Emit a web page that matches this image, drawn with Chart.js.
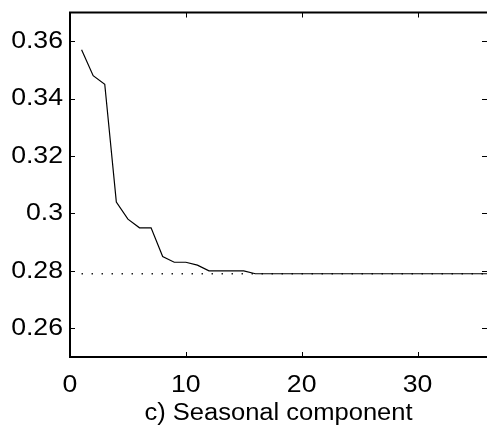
<!DOCTYPE html>
<html><head><meta charset="utf-8">
<script src="https://cdn.jsdelivr.net/npm/chart.js@4.4.1/dist/chart.umd.min.js"></script>
<style>html,body{margin:0;padding:0;background:#fff;overflow:hidden;} canvas{display:block;}</style>
</head><body>
<canvas id="c" width="487" height="437"></canvas>
<script>
const steps = [1,2,3,4,5,6,7,8,9,10,11,12,13,14,15,16,17,18,19,20,21,22,23,24,25,26,27,28,29,30,31,32,33,34,35,36];
const seasonal = [0.357,0.348,0.345,0.304,0.298,0.295,0.295,0.285,0.283,0.283,0.282,0.280,0.280,0.280,0.280,
  0.279,0.279,0.279,0.279,0.279,0.279,0.279,0.279,0.279,0.279,0.279,0.279,0.279,0.279,0.279,0.279,0.279,0.279,0.279,0.279,0.279];
const limitX = [1, 36];
const limitY = [0.279, 0.279];
const xTicks = [0, 10, 20, 30];
const xTickLabels = ['0', '10', '20', '30'];
const yTicks = [0.26, 0.28, 0.30, 0.32, 0.34, 0.36];
const yTickLabels = ['0.26', '0.28', '0.3', '0.32', '0.34', '0.36'];
const xTitle = 'c) Seasonal component';

const FONT = '"Liberation Sans", Arial, Helvetica, sans-serif';
const TEXT_STRETCH = 1.11;

const canvas = document.getElementById('c');
const ctx2d = canvas.getContext('2d');
// The reference figure's lettering is slightly wider than plain Arial: stretch text horizontally about its anchor.
const origFillText = ctx2d.fillText;
ctx2d.fillText = function (text, x, y, maxWidth) {
  this.save();
  this.translate(x, y);
  this.scale(TEXT_STRETCH, 1);
  origFillText.call(this, text, 0, 0);
  this.restore();
};

const framePlugin = {
  id: 'frame',
  afterDatasetsDraw(chart) {
    const {ctx, chartArea: a, scales: {x, y}} = chart;
    ctx.save();
    ctx.strokeStyle = '#000';
    ctx.lineWidth = 1;
    const tl = 5;
    ctx.beginPath();
    yTicks.forEach(v => {
      const py = Math.round(y.getPixelForValue(v)) + 0.5;
      ctx.moveTo(a.left, py); ctx.lineTo(a.left + tl, py);
      ctx.moveTo(a.right, py); ctx.lineTo(a.right - tl, py);
    });
    xTicks.forEach(v => {
      const px = Math.round(x.getPixelForValue(v)) + 0.5;
      ctx.moveTo(px, a.bottom); ctx.lineTo(px, a.bottom - tl);
      ctx.moveTo(px, a.top); ctx.lineTo(px, a.top + tl);
    });
    ctx.stroke();
    ctx.lineWidth = 2;
    ctx.beginPath();
    ctx.moveTo(a.right, a.top); ctx.lineTo(a.left, a.top); ctx.lineTo(a.left, a.bottom); ctx.lineTo(a.right, a.bottom);
    ctx.stroke();
    ctx.restore();
  }
};

new Chart(canvas, {
  type: 'line',
  data: {
    datasets: [
      {
        label: 'limit',
        data: limitX.map((v, i) => ({x: v, y: limitY[i]})),
        borderColor: '#000',
        borderWidth: 1.3,
        borderDash: [1.3, 8.7],
        pointRadius: 0,
        tension: 0,
        fill: false
      },
      {
        label: 'seasonal',
        data: steps.map((v, i) => ({x: v, y: seasonal[i]})),
        borderColor: '#000',
        borderWidth: 1.2,
        pointRadius: 0,
        tension: 0,
        fill: false
      }
    ]
  },
  options: {
    responsive: false,
    animation: false,
    devicePixelRatio: 1,
    layout: {padding: {top: 12.5, right: 0, left: 0, bottom: 0}},
    plugins: {legend: {display: false}, tooltip: {enabled: false}, title: {display: false}},
    scales: {
      x: {
        type: 'linear',
        min: 0, max: 36,
        afterBuildTicks(scale) { scale.ticks = xTicks.map(v => ({value: v})); },
        afterFit(scale) { scale.height = 80; scale.paddingLeft = 0; scale.paddingRight = 0; },
        grid: {display: false, drawTicks: false},
        border: {display: false},
        ticks: {
          color: '#000',
          font: {family: FONT, size: 24},
          padding: 14,
          maxRotation: 0,
          autoSkip: false,
          callback: (v, i) => xTickLabels[i]
        },
        title: {
          display: true,
          text: xTitle,
          color: '#000',
          font: {family: FONT, size: 23},
          padding: {top: 0, bottom: 10}
        }
      },
      y: {
        type: 'linear',
        min: 0.25, max: 0.37,
        afterBuildTicks(scale) { scale.ticks = yTicks.map(v => ({value: v})); },
        afterFit(scale) { scale.width = 70; scale.paddingTop = 0; scale.paddingBottom = 0; },
        grid: {display: false, drawTicks: false},
        border: {display: false},
        ticks: {
          color: '#000',
          font: {family: FONT, size: 24},
          padding: 7,
          autoSkip: false,
          callback: (v, i) => yTickLabels[i]
        }
      }
    }
  },
  plugins: [framePlugin]
});
</script>
</body></html>
